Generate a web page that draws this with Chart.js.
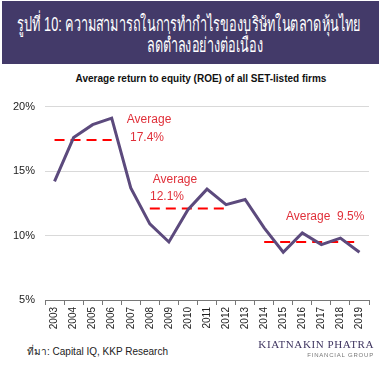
<!DOCTYPE html>
<html>
<head>
<meta charset="utf-8">
<script src="https://cdn.jsdelivr.net/npm/chart.js@4.4.0/dist/chart.umd.min.js"></script>
<style>
  body { margin: 0; background: #fff; width: 382px; height: 370px; position: relative; overflow: hidden; font-family: "Liberation Sans", "DejaVu Sans", sans-serif; }
  #header { position: absolute; left: 2px; top: 1px; width: 377px; height: 63px; background: #433a69; color: #fff; }
  #header span { position: absolute; left: 0; white-space: nowrap; font-size: 20px; line-height: 20px; transform-origin: 0 50%; }
  #title { position: absolute; left: 0; top: 73px; width: 402px; text-align: center; font-size: 10px; font-weight: bold; color: #111; }
  #wrap { position: absolute; left: 0; top: 90px; width: 382px; height: 250px; }
  #source { position: absolute; left: 27px; top: 344px; font-size: 10px; color: #222; }
  #logo { position: absolute; right: 8px; top: 338px; text-align: right; color: #3f3560; }
  #logo .big { font-family: "Liberation Serif", "DejaVu Serif", serif; font-size: 11px; letter-spacing: 0.6px; }
  #logo .small { font-size: 6px; letter-spacing: 0.8px; color: #777; margin-top: 2px; }
</style>
</head>
<body>
<div id="header"><span id="h1" data-l="15" data-w="344" style="top:13px">รูปที่ 10: ความสามารถในการทำกำไรของบริษัทในตลาดหุ้นไทย</span><span id="h2" data-l="145" data-w="116" style="top:34px">ลดต่ำลงอย่างต่อเนื่อง</span></div>
<div id="title">Average return to equity (ROE) of all SET-listed firms</div>
<div id="wrap"><canvas id="roeChart"></canvas></div>
<div id="source">ที่มา: Capital IQ, KKP Research</div>
<div id="logo"><div class="big">KIATNAKIN PHATRA</div><div class="small">FINANCIAL GROUP</div></div>
<script>
// data
const years = ['2003', '2004', '2005', '2006', '2007', '2008', '2009', '2010', '2011', '2012', '2013', '2014', '2015', '2016', '2017', '2018', '2019'];
const roe = [14.2, 17.6, 18.6, 19.1, 13.7, 10.9, 9.5, 12.0, 13.6, 12.4, 12.8, 10.6, 8.7, 10.2, 9.3, 9.8, 8.7];
const avgValues = [17.4, 12.1, 9.5];
const avgFrom = [0, 5, 11];
const avgTo = [3, 9, 16];
// note text with its place: category index, value
const noteText = ['Average', '17.4%', 'Average', '12.1%', 'Average  9.5%'];
const noteAt = [[4.96, 18.95], [4.85, 17.6], [6.32, 14.3], [5.9, 13.0], [14.2, 11.5]];

// squeeze the Thai header lines to the reference width
document.querySelectorAll('#header span').forEach(s => {
  const w = s.getBoundingClientRect().width;
  s.style.left = s.dataset.l + 'px';
  s.style.transform = 'scaleX(' + (s.dataset.w / w) + ')';
});

const avgSets = avgValues.map((v, i) => ({
  data: years.map((y, j) => (j >= avgFrom[i] && j <= avgTo[i]) ? v : null),
  borderColor: '#ff0000',
  borderWidth: 2,
  borderDash: [10, 6],
  pointRadius: 0,
  spanGaps: false
}));

const notePlugin = {
  id: 'notes',
  afterDatasetsDraw(chart) {
    const c = chart.ctx;
    const x = chart.scales.x, y = chart.scales.y;
    const step = x.getPixelForValue(1) - x.getPixelForValue(0);
    c.save();
    c.fillStyle = '#e0303a';
    c.font = '12px "Liberation Sans", sans-serif';
    c.textAlign = 'center';
    c.textBaseline = 'middle';
    noteText.forEach((t, i) => {
      c.fillText(t, x.getPixelForValue(0) + noteAt[i][0] * step, y.getPixelForValue(noteAt[i][1]));
    });
    c.restore();
  }
};

new Chart(document.getElementById('roeChart'), {
  type: 'line',
  data: {
    labels: years,
    datasets: [{
      data: roe,
      borderColor: '#5c4a7d',
      borderWidth: 3,
      pointRadius: 0,
      tension: 0
    }].concat(avgSets)
  },
  options: {
    responsive: true,
    maintainAspectRatio: false,
    animation: false,
    layout: { padding: { top: 11, right: 13, left: 0, bottom: 0 } },
    plugins: { legend: { display: false }, tooltip: { enabled: false } },
    scales: {
      x: {
        offset: true,
        afterFit: s => { s.height = 40; },
        grid: { offset: true, drawOnChartArea: false, drawTicks: true, tickLength: 5, color: '#777' },
        border: { display: true, color: '#777', width: 1 },
        ticks: { minRotation: 90, maxRotation: 90, color: '#222', padding: 2, font: { size: 10, family: '"Liberation Sans", sans-serif' } }
      },
      y: {
        min: 5,
        max: 20,
        afterFit: s => { s.width = 45; },
        grid: { color: '#d9d9d9', drawTicks: false },
        border: { display: false },
        ticks: { stepSize: 5, padding: 10, color: '#222', font: { size: 11, family: '"Liberation Sans", sans-serif' }, callback: v => v + '%' }
      }
    }
  },
  plugins: [notePlugin]
});
</script>
</body>
</html>
